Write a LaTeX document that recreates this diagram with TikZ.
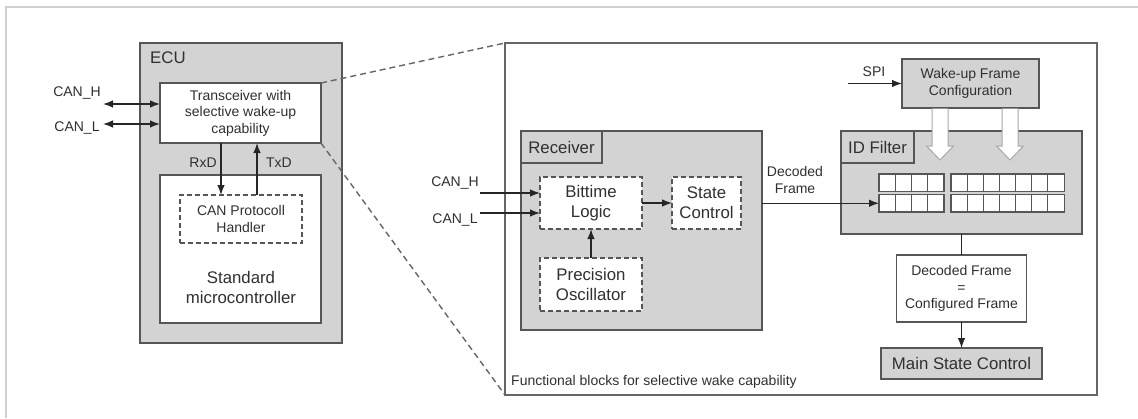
\documentclass[tikz,border=0pt]{standalone}
\usepackage{fontspec}
\setmainfont{Liberation Sans}
\usetikzlibrary{arrows.meta,calc}
\definecolor{boxfill}{HTML}{D3D3D3}
\definecolor{bordc}{HTML}{565656}
\definecolor{txt}{HTML}{303030}
\definecolor{framec}{HTML}{D0D0D0}
\definecolor{hollowc}{HTML}{A8A8A8}
\newcommand{\fsmall}{\fontsize{14}{16.6}\selectfont}
\newcommand{\fbig}{\fontsize{16.8}{20}\selectfont}
\begin{document}
\begin{tikzpicture}[x=1pt,y=-1pt,
  box/.style={draw=bordc, line width=1.3pt, inner sep=0pt, outer sep=0pt, align=center, text=txt, anchor=north west},
  graybox/.style={box, fill=boxfill},
  whitebox/.style={box, fill=white},
  dashbox/.style={box, fill=white, dash pattern=on 5pt off 3pt},
  lbl/.style={text=txt, inner sep=0pt, align=center},
  cell/.style={draw=bordc, line width=1.1pt, fill=white, inner sep=0pt, outer sep=0pt, anchor=north west, minimum width=16.2pt},
  arr/.style={draw=black!85, line width=1.3pt, -{Latex[length=10pt,width=7.5pt]}},
  darr/.style={draw=black!85, line width=1.3pt, {Latex[length=10pt,width=7.5pt]}-{Latex[length=10pt,width=7.5pt]}},
  zoomline/.style={draw=black!60, line width=1.4pt, dash pattern=on 6pt off 4pt},
  hollow/.style={draw=hollowc, line width=1pt, fill=white}
]
\useasboundingbox (0,0) rectangle (1138,418);
\fill[white] (0,0) rectangle (1138,418);
% outer frame (top and left)
\draw[framec, line width=1.8pt] (6,418) -- (6,7) -- (1138,7);

% ===== ECU =====
\node[graybox, minimum width=202pt, minimum height=300pt] (ecu) at (140,43) {};
\node[lbl, anchor=west, font=\fbig] (ecul) at (150,58) {ECU};
\node[whitebox, minimum width=161pt, minimum height=60pt, font=\fsmall] (trx) at (160,83) {Transceiver with\\selective wake-up\\capability};
\node[whitebox, minimum width=161pt, minimum height=148pt] (mcu) at (160,175) {};
\node[dashbox, minimum width=122pt, minimum height=48pt, font=\fsmall] (cph) at (180,195) {CAN Protocoll\\Handler};
\node[lbl, font=\fbig] (mcut) at (241,287) {Standard\\microcontroller};

\node[lbl, font=\fsmall] (canhl) at (77,93) {CAN\_H};
\node[lbl, font=\fsmall] (canll) at (77,128) {CAN\_L};
\coordinate (canhe) at (103,104);
\coordinate (canle) at (103,124);
\draw[darr] (canhe) -- (trx.west |- canhe);
\draw[darr] (canle) -- (trx.west |- canle);

\draw[arr] ($(trx.south west)+(61,0)$) -- ($(mcu.north west)+(61,20)$);
\draw[arr] ($(mcu.north west)+(97,20)$) -- ($(trx.south west)+(97,0)$);
\node[lbl, font=\fsmall] (rxd) at (203,163) {RxD};
\node[lbl, font=\fsmall] (txd) at (279,163) {TxD};

% ===== Functional blocks =====
\node[whitebox, draw=black!60, minimum width=592pt, minimum height=352pt] (big) at (505,43) {};
\node[lbl, anchor=west, font=\fsmall] (foot) at (511,382) {Functional blocks for selective wake capability};

\draw[zoomline] (trx.north east) -- (big.north west);
\draw[zoomline] (trx.south east) -- (big.south west);

% Receiver
\node[graybox, minimum width=241pt, minimum height=199pt] (rec) at (521,131) {};
\node[graybox, minimum width=81pt, minimum height=32pt, font=\fbig] (rectab) at (521,131) {Receiver};
\node[dashbox, minimum width=102pt, minimum height=52pt, font=\fbig] (bit) at (540,177) {Bittime\\Logic};
\node[dashbox, minimum width=69pt, minimum height=52pt, font=\fbig] (sc) at (672,177) {State\\Control};
\node[dashbox, minimum width=102pt, minimum height=53pt, font=\fbig] (prec) at (540,258) {Precision\\Oscillator};
\draw[arr] (bit) -- (sc);
\draw[arr] (prec) -- (bit);

\node[lbl, font=\fsmall] (canhl2) at (455,183) {CAN\_H};
\node[lbl, font=\fsmall] (canll2) at (455,220) {CAN\_L};
\coordinate (canh2) at (480,193);
\coordinate (canl2) at (480,213);
\draw[arr] (canh2) -- (bit.west |- canh2);
\draw[arr] (canl2) -- (bit.west |- canl2);

% ID filter
\node[graybox, minimum width=241pt, minimum height=103pt] (idf) at (841,131) {};
\node[graybox, minimum width=73pt, minimum height=32pt, font=\fbig] (idftab) at (841,131) {ID Filter};
\foreach \r/\y in {1/174,2/194.5} {
  \foreach \i in {0,...,3}
    \node[cell, minimum height=17.5pt] (a\r\i) at ({879+\i*16.25},\y) {};
  \foreach \i in {0,...,6}
    \node[cell, minimum height=17.5pt] (b\r\i) at ({951+\i*16.14},\y) {};
}
\draw[arr] (rec.east |- a20.west) -- (a20.west);
\node[lbl, font=\fsmall] (decl) at (795,180) {Decoded\\Frame};

% Wake-up config
\node[graybox, minimum width=137pt, minimum height=49pt, font=\fsmall] (wake) at (902,59) {Wake-up Frame\\Configuration};
\node[lbl, font=\fsmall] (spil) at (874,72) {SPI};
\coordinate (spis) at (848,83.5);
\draw[arr] (spis) -- (wake.west |- spis);

% hollow arrows
\foreach \cx in {940,1010} {
  \draw[hollow] (\cx-8,108.7) -- (\cx-8,146) -- (\cx-13.5,146) -- (\cx,160) -- (\cx+13.5,146) -- (\cx+8,146) -- (\cx+8,108.7);
}

% decision
\node[whitebox, minimum width=130pt, minimum height=67pt, font=\fsmall] (dec) at (896.5,255) {Decoded Frame\\=\\Configured Frame};
\node[graybox, minimum width=161pt, minimum height=31pt, font=\fbig] (msc) at (881,348) {Main State Control};
\draw[draw=black!85, line width=1.2pt] (idf.south) -- (dec.north);
\draw[arr] (dec) -- (msc);
\end{tikzpicture}
\end{document}
